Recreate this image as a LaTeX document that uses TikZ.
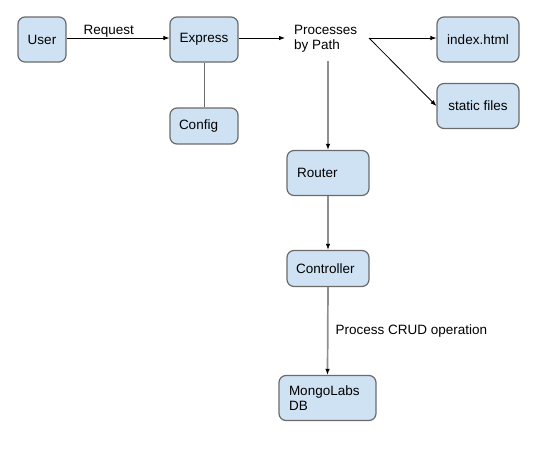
\documentclass[tikz,border=0pt]{standalone}
\usepackage{fontspec}
\setmainfont{Liberation Sans}
\usetikzlibrary{arrows.meta}
\definecolor{boxfill}{HTML}{CFE2F3}
\definecolor{boxline}{HTML}{6B6B6B}
\definecolor{greyline}{HTML}{8F8F8F}
\tikzset{
  box/.style={draw=boxline, fill=boxfill, line width=1.2pt, rounded corners=7pt, inner sep=0pt, font=\fontsize{13.5}{15.5}\selectfont},
  lbl/.style={inner sep=0pt, font=\fontsize{13.5}{15.5}\selectfont, text=black},
  arr/.style={line width=0.8pt, -{Latex[length=6pt,width=4.5pt,color=black]}},
  garr/.style={draw=greyline, line width=1.7pt, -{Latex[length=6pt,width=4.5pt,color=black]}},
}
\begin{document}
\begin{tikzpicture}[x=1pt,y=-1pt]
\useasboundingbox[fill=white] (0,0) rectangle (549,448);
% boxes
\node[box, minimum width=48pt, minimum height=45pt] (user) at (42,39.5) {User};
\node[box, minimum width=68pt, minimum height=45pt] (express) at (204,39.5) {Express};
\node[box, minimum width=68pt, minimum height=36pt, text width=50pt, align=left] (config) at (204,126) {Config};
\node[lbl, align=left, anchor=north west] (proc) at (294,25) {Processes\\by Path};
\coordinate (procR) at (369,38);
\coordinate (procL) at (285,38);
\coordinate (procB) at (328,61);
\node[box, minimum width=82pt, minimum height=45pt] (index) at (478,39.5) {index.html};
\node[box, minimum width=82pt, minimum height=45pt] (static) at (478,106) {static files};
\node[box, minimum width=82pt, minimum height=45pt, text width=62pt, align=left] (router) at (328,173) {Router};
\node[box, minimum width=82pt, minimum height=36pt, text width=64pt, align=left] (controller) at (328,268.5) {Controller};
\node[box, minimum width=97pt, minimum height=45pt, text width=77pt, align=left] (mongo) at (327.5,398) {MongoLabs\\DB};
% connectors
\draw[arr] (user.east |- 0,38) -- node[lbl, above=0.5pt, pos=0.41] (req) {Request} (express.west |- 0,38);
\draw[arr] (express.east |- 0,38) -- (procL);
\draw[draw=boxline, line width=1pt] (express.south) -- (config.north);
\draw[arr] (procR) -- (index.west |- 0,38);
\draw[arr] (procR) -- (static.west);
\draw[garr] (procB) -- (router.north);
\draw[garr] (router.south) -- (controller.north);
\draw[garr] (controller.south) -- node[lbl, right=7pt, pos=0.5] (crud) {Process CRUD operation} (mongo.north);
\end{tikzpicture}
\end{document}
